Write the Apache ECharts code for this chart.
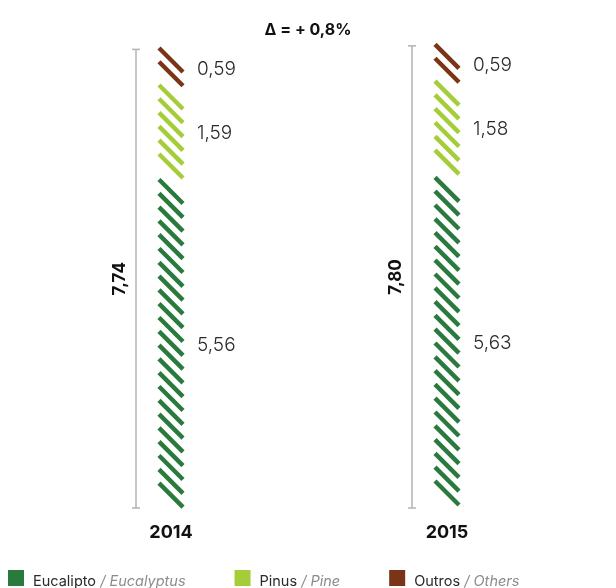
<!DOCTYPE html>
<html>
<head>
<meta charset="utf-8">
<style>
  html, body { margin: 0; padding: 0; background: #fff; }
  #chart { width: 616px; height: 588px; }
</style>
<script src="https://cdn.jsdelivr.net/npm/echarts@6/dist/echarts.min.js"></script>
</head>
<body>
<div id="chart"></div>
<script>
// Planted area by species (million ha)
const years = ['2014', '2015'];
const eucalipto = [5.56, 5.63];
const pinus = [1.59, 1.58];
const outros = [0.59, 0.59];
const totals = [7.74, 7.80];
const deltaText = 'Δ = + 0,8%';

const speciesNames = ['Eucalipto', 'Pinus', 'Outros'];
const speciesEnglish = { Eucalipto: 'Eucalyptus', Pinus: 'Pine', Outros: 'Others' };
const speciesColors = ['#2a7a3e', '#a5cd39', '#7a3416'];

const FONT = 'Inter, "Open Sans", sans-serif';
const SLASH_W = 24;   // horizontal extent of one hatch stroke
const SLASH_H = 24;   // vertical extent of one hatch stroke
const STEP = 13.8;    // vertical pitch between strokes

const fmt = v => v.toFixed(2).replace('.', ',');

// Stack the three species per year: [category, low, high, value]
function stackRows(values, below) {
  return values.map((v, i) => {
    const lo = below[i];
    return [i, lo, lo + v, v];
  });
}
const zeros = years.map(() => 0);
const eucRows = stackRows(eucalipto, zeros);
const pinRows = stackRows(pinus, eucalipto);
const outRows = stackRows(outros, eucalipto.map((v, i) => v + pinus[i]));

// A segment is drawn as a column of parallel "\" strokes filling its value range
function renderSegment(params, api) {
  const cat = api.value(0);
  const lo = api.value(1);
  const hi = api.value(2);
  const v = api.value(3);
  const pBot = api.coord([cat, lo]);
  const pTop = api.coord([cat, hi]);
  const cx = pBot[0];
  const len = pBot[1] - pTop[1];
  const n = Math.max(1, Math.round(len / STEP) - 1);
  const span = SLASH_H + (n - 1) * STEP;
  const y0 = (pTop[1] + pBot[1]) / 2 - span / 2;
  const color = api.visual('color');
  const children = [];
  for (let k = 0; k < n; k++) {
    const y = y0 + k * STEP;
    children.push({
      type: 'line',
      shape: { x1: cx - SLASH_W / 2, y1: y, x2: cx + SLASH_W / 2, y2: y + SLASH_H },
      style: { stroke: color, lineWidth: 4.5, lineCap: 'butt' }
    });
  }
  children.push({
    type: 'text',
    x: cx + 26,
    y: (pTop[1] + pBot[1]) / 2 + 2,
    style: {
      text: fmt(v),
      fill: '#2b2b2b',
      font: '300 19px ' + FONT,
      align: 'left',
      verticalAlign: 'middle'
    }
  });
  return { type: 'group', children };
}

// Bracket with the year total beside each column
function renderTotal(params, api) {
  const cat = api.value(0);
  const total = api.value(1);
  const p0 = api.coord([cat, 0]);
  const p1 = api.coord([cat, total]);
  const x = p0[0] - 35;
  const stroke = { stroke: '#b3b3b3', lineWidth: 1.5 };
  return {
    type: 'group',
    children: [
      { type: 'line', shape: { x1: x, y1: p1[1], x2: x, y2: p0[1] }, style: stroke },
      { type: 'line', shape: { x1: x - 4, y1: p1[1], x2: x + 4, y2: p1[1] }, style: stroke },
      { type: 'line', shape: { x1: x - 4, y1: p0[1], x2: x + 4, y2: p0[1] }, style: stroke },
      {
        type: 'text',
        x: p0[0] - 51,
        y: (p0[1] + p1[1]) / 2,
        rotation: Math.PI / 2,
        style: {
          text: fmt(total),
          fill: '#111',
          font: 'bold 17px ' + FONT,
          align: 'center',
          verticalAlign: 'middle'
        }
      }
    ]
  };
}

function speciesSeries(name, rows, color) {
  return {
    name,
    type: 'custom',
    renderItem: renderSegment,
    itemStyle: { color },
    encode: { x: 0, y: [1, 2] },
    data: rows
  };
}

const chart = echarts.init(document.getElementById('chart'), null, { renderer: 'canvas' });
chart.setOption({
  animation: false,
  backgroundColor: '#fff',
  title: {
    text: deltaText,
    left: 'center',
    top: 17,
    textStyle: { fontFamily: FONT, fontSize: 16, fontWeight: 'bold', color: '#111' }
  },
  grid: { left: 33, right: 31, top: 34, bottom: 80 },
  xAxis: {
    type: 'category',
    data: years,
    axisLine: { show: false },
    axisTick: { show: false },
    splitLine: { show: false },
    axisLabel: {
      margin: 16,
      fontFamily: FONT,
      fontSize: 18,
      fontWeight: 'bold',
      color: '#111'
    }
  },
  yAxis: { type: 'value', min: 0, max: 8, show: false },
  legend: {
    data: speciesNames,
    left: 8,
    top: 570,
    padding: 0,
    itemGap: 49,
    itemWidth: 16,
    itemHeight: 16,
    icon: 'rect',
    selectedMode: false,
    formatter: name => `{a|${name}}{b| / ${speciesEnglish[name]}}`,
    textStyle: {
      rich: {
        a: { fontFamily: FONT, fontSize: 14.5, color: '#2b2b2b', padding: [7, 0, 0, 4] },
        b: { fontFamily: FONT, fontSize: 14.5, fontStyle: 'italic', color: '#8c8c8c', padding: [7, 0, 0, 0] }
      }
    }
  },
  series: [
    speciesSeries('Eucalipto', eucRows, speciesColors[0]),
    speciesSeries('Pinus', pinRows, speciesColors[1]),
    speciesSeries('Outros', outRows, speciesColors[2]),
    {
      name: 'Total',
      type: 'custom',
      renderItem: renderTotal,
      encode: { x: 0, y: 1 },
      data: totals.map((t, i) => [i, t])
    }
  ]
});
</script>
</body>
</html>
